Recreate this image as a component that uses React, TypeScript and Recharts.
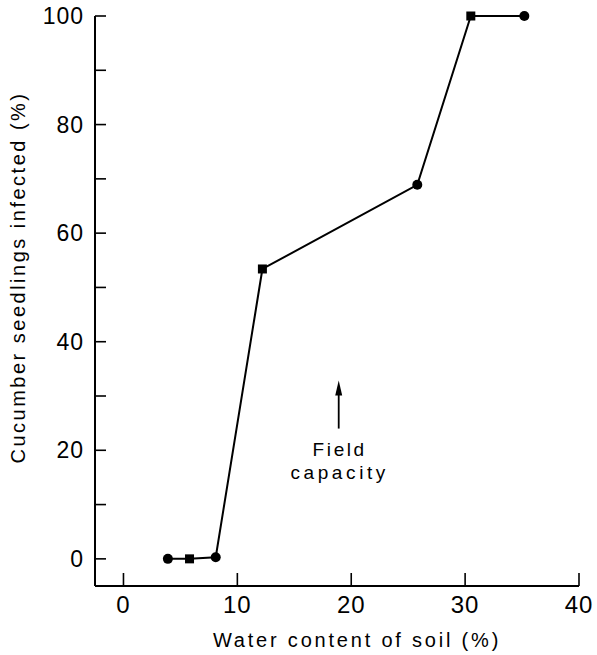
import React from 'react';
import { LineChart, Line, XAxis, YAxis, ReferenceDot, Label } from 'recharts';

// soil water content (%) and infection (%) per treatment
const waterContent = [3.9, 5.8, 8.1, 12.2, 25.8, 30.5, 35.2];
const infected = [0, 0, 0.3, 53.4, 68.9, 100, 100];
const markers = ['circle', 'square', 'circle', 'square', 'circle', 'square', 'circle'];

const xTicks = [0, 10, 20, 30, 40];
const yTicks = [0, 10, 20, 30, 40, 50, 60, 70, 80, 90, 100];
const yLabelled = [0, 20, 40, 60, 80, 100];

const fieldCapacity = 18.9;

const FONT = '"Liberation Sans", Arial, sans-serif';
const INK = '#000';

const data = waterContent.map((w, i) => ({ water: w, infected: infected[i], marker: markers[i] }));

const YTick = (props: any) => {
  const { x, y, payload } = props;
  const v = payload.value;
  return (
    <g>
      <line x1={x} x2={x + 11} y1={y} y2={y} stroke={INK} strokeWidth={1.6} />
      {yLabelled.includes(v) && (
        <text x={x - 11} y={y + 8} textAnchor="end" fontSize={23} fontFamily={FONT} fill={INK} letterSpacing={1}>
          {v}
        </text>
      )}
    </g>
  );
};

const XTick = (props: any) => {
  const { x, y, payload } = props;
  return (
    <g>
      <line x1={x} x2={x} y1={y} y2={y - 13} stroke={INK} strokeWidth={1.6} />
      <text x={x} y={y + 27} textAnchor="middle" fontSize={24} fontFamily={FONT} fill={INK} letterSpacing={1}>
        {payload.value}
      </text>
    </g>
  );
};

const Marker = (props: any) => {
  const { cx, cy, index } = props;
  if (markers[index] === 'square') {
    return <rect key={`m-${index}`} x={cx - 4.5} y={cy - 4.5} width={9} height={9} fill={INK} />;
  }
  return <circle key={`m-${index}`} cx={cx} cy={cy} r={5} fill={INK} />;
};

const FieldCapacity = (props: any) => {
  const { cx, cy } = props;
  return (
    <g>
      <line x1={cx} x2={cx} y1={cy} y2={cy - 40} stroke={INK} strokeWidth={1.8} />
      <polygon points={`${cx},${cy - 48} ${cx - 3.5},${cy - 33} ${cx + 3.5},${cy - 33}`} fill={INK} />
      <text x={cx + 1} y={cy + 27} textAnchor="middle" fontSize={19} fontFamily={FONT} fill={INK} letterSpacing={2.6}>
        Field
      </text>
      <text x={cx + 1} y={cy + 50} textAnchor="middle" fontSize={19} fontFamily={FONT} fill={INK} letterSpacing={3.6}>
        capacity
      </text>
    </g>
  );
};

export default function App() {
  return (
    <div style={{ position: 'absolute', left: 0, top: 0, width: 597, height: 655, background: '#fff' }}>
      <LineChart width={597} height={655} data={data} margin={{ top: 16, right: 18, bottom: 0, left: 0 }}>
        <XAxis
          dataKey="water"
          type="number"
          domain={[-2.5, 40]}
          ticks={xTicks}
          interval={0}
          height={69}
          axisLine={{ stroke: INK, strokeWidth: 2 }}
          tickLine={false}
          tickSize={0}
          tickMargin={0}
          tick={<XTick />}
        >
          <Label
            content={(p: any) => {
              const vb = p.viewBox;
              return (
                <text x={vb.x + vb.width / 2 + 20} y={vb.y + 61} textAnchor="middle" fontSize={20} fontFamily={FONT} fill={INK} letterSpacing={2.8}>
                  Water content of soil (%)
                </text>
              );
            }}
          />
        </XAxis>
        <YAxis
          type="number"
          domain={[-5, 100]}
          ticks={yTicks}
          interval={0}
          width={95}
          axisLine={{ stroke: INK, strokeWidth: 2 }}
          tickLine={false}
          tickSize={0}
          tickMargin={0}
          tick={<YTick />}
        >
          <Label
            content={(p: any) => {
              const vb = p.viewBox;
              const cy = vb.y + vb.height / 2 - 23.5;
              return (
                <text x={25} y={cy} transform={`rotate(-90, 25, ${cy})`} textAnchor="middle" fontSize={20} fontFamily={FONT} fill={INK} letterSpacing={2.5}>
                  Cucumber seedlings infected (%)
                </text>
              );
            }}
          />
        </YAxis>
        <Line
          dataKey="infected"
          stroke={INK}
          strokeWidth={2}
          dot={Marker}
          activeDot={false}
          isAnimationActive={false}
        />
        <ReferenceDot x={fieldCapacity} y={24} r={0} shape={FieldCapacity} />
      </LineChart>
    </div>
  );
}
